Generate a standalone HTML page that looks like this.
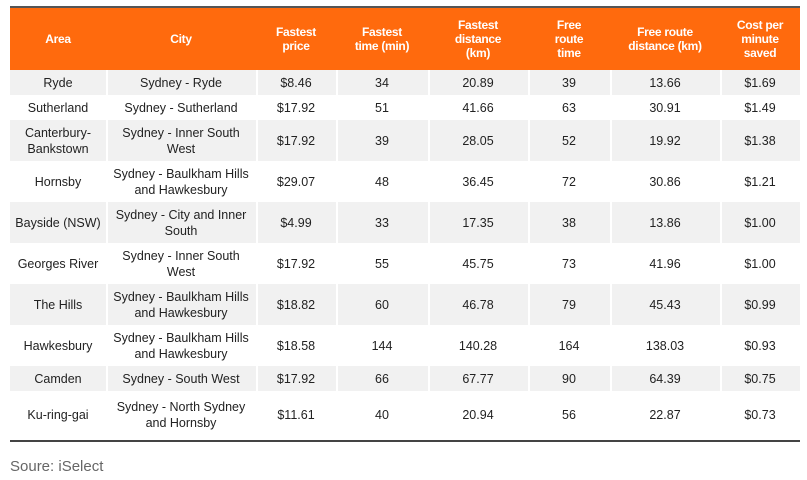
<!DOCTYPE html>
<html><head><style>
body{margin:0;background:#fff;width:807px;height:480px;overflow:hidden;font-family:"Liberation Sans",sans-serif;}
table{position:absolute;left:10px;top:6px;border-collapse:collapse;table-layout:fixed;width:790px;border-top:2px solid #555;}
th{background:#ff6a0d;color:#fff;font-size:12px;font-weight:bold;height:62px;padding:0 2px;line-height:14px;letter-spacing:-0.3px}
td{font-size:12.5px;color:#222;text-align:center;padding:0 2px;line-height:16px;}
tr.g td{background:#f1f1f1;box-shadow:inset 2px 0 #fff}
tr.g td:first-child{box-shadow:none}
.s{height:25px}.t{height:41px}
.line{position:absolute;left:10px;top:440px;width:790px;height:2px;background:#444}
.src{position:absolute;left:10px;top:458px;font-size:15px;color:#666}
</style></head><body>
<table>
<colgroup><col style="width:96px"><col style="width:150px"><col style="width:80px"><col style="width:92px"><col style="width:100px"><col style="width:82px"><col style="width:110px"><col style="width:80px"></colgroup>
<tr><th>Area</th><th>City</th><th>Fastest<br>price</th><th>Fastest<br>time (min)</th><th>Fastest<br>distance<br>(km)</th><th>Free<br>route<br>time</th><th>Free route<br>distance (km)</th><th>Cost per<br>minute<br>saved</th></tr>
<tr class="g s"><td>Ryde</td><td>Sydney - Ryde</td><td>$8.46</td><td>34</td><td>20.89</td><td>39</td><td>13.66</td><td>$1.69</td></tr>
<tr class="s"><td>Sutherland</td><td>Sydney - Sutherland</td><td>$17.92</td><td>51</td><td>41.66</td><td>63</td><td>30.91</td><td>$1.49</td></tr>
<tr class="g t"><td>Canterbury-<br>Bankstown</td><td>Sydney - Inner South<br>West</td><td>$17.92</td><td>39</td><td>28.05</td><td>52</td><td>19.92</td><td>$1.38</td></tr>
<tr class="t"><td>Hornsby</td><td>Sydney - Baulkham Hills<br>and Hawkesbury</td><td>$29.07</td><td>48</td><td>36.45</td><td>72</td><td>30.86</td><td>$1.21</td></tr>
<tr class="g t"><td style="white-space:nowrap">Bayside (NSW)</td><td>Sydney - City and Inner<br>South</td><td>$4.99</td><td>33</td><td>17.35</td><td>38</td><td>13.86</td><td>$1.00</td></tr>
<tr class="t"><td style="white-space:nowrap">Georges River</td><td>Sydney - Inner South<br>West</td><td>$17.92</td><td>55</td><td>45.75</td><td>73</td><td>41.96</td><td>$1.00</td></tr>
<tr class="g t"><td>The Hills</td><td>Sydney - Baulkham Hills<br>and Hawkesbury</td><td>$18.82</td><td>60</td><td>46.78</td><td>79</td><td>45.43</td><td>$0.99</td></tr>
<tr class="t"><td>Hawkesbury</td><td>Sydney - Baulkham Hills<br>and Hawkesbury</td><td>$18.58</td><td>144</td><td>140.28</td><td>164</td><td>138.03</td><td>$0.93</td></tr>
<tr class="g s"><td>Camden</td><td>Sydney - South West</td><td>$17.92</td><td>66</td><td>67.77</td><td>90</td><td>64.39</td><td>$0.75</td></tr>
<tr style="height:47px"><td>Ku-ring-gai</td><td>Sydney - North Sydney<br>and Hornsby</td><td>$11.61</td><td>40</td><td>20.94</td><td>56</td><td>22.87</td><td>$0.73</td></tr>
</table>
<div class="line"></div>
<div class="src">Soure: iSelect</div>
</body></html>
